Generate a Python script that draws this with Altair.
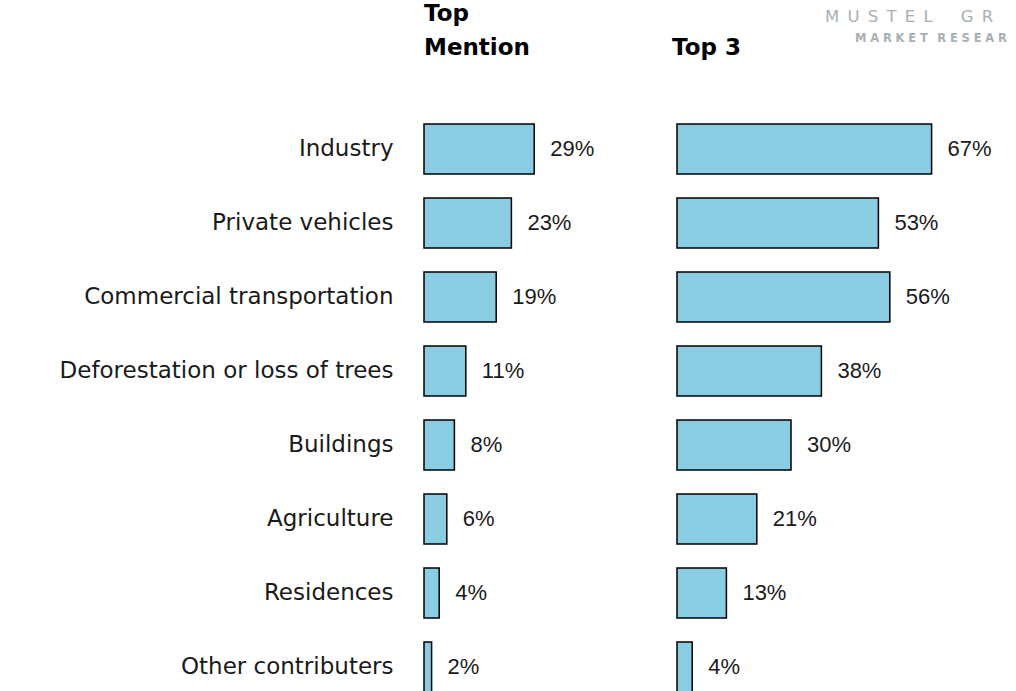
import altair as alt
import pandas as pd

categories = ["Industry", "Private vehicles", "Commercial transportation",
              "Deforestation or loss of trees", "Buildings", "Agriculture",
              "Residences", "Other contributers"]
top_mention = [29, 23, 19, 11, 8, 6, 4, 2]
top_three = [67, 53, 56, 38, 30, 21, 13, 4]

df = pd.DataFrame({"category": categories, "top": top_mention, "top3": top_three})
df["top_label"] = df["top"].astype(str) + "%"
df["top3_label"] = df["top3"].astype(str) + "%"

PX = 3.8
CAT_FONT = "DejaVu Sans"
NUM_FONT = "Liberation Sans"
BAR = "#8ACCE2"
INK = "#1a1a1a"
LOGO = "#a7afb5"
W1, W2, H = 243, 330, 568

yscale = alt.Scale(domain=categories, paddingInner=0.324, paddingOuter=0)
one = df.head(1)


def header(lines_y, x, texts, size=23):
    out = []
    for yy, t in zip(lines_y, texts):
        out.append(alt.Chart(one).mark_text(
            text=t, align="left", baseline="alphabetic", fontSize=size,
            font=CAT_FONT, fontWeight="bold", color="black"
        ).encode(x=alt.value(x), y=alt.value(yy)))
    return out


def panel(field, label, width, axis):
    base = alt.Chart(df)
    y = alt.Y("category:N", sort=categories, scale=yscale, title=None, axis=axis)
    x = alt.X(f"{field}:Q", scale=alt.Scale(domain=[0, width / PX]), axis=None)
    bars = base.mark_bar(color=BAR, stroke="black", strokeWidth=1.5).encode(x=x, y=y)
    text = base.mark_text(align="left", baseline="middle", dx=16, fontSize=22,
                          font=NUM_FONT, color=INK).encode(x=x, y=y, text=f"{label}:N")
    return [bars, text]


left_layers = panel("top", "top_label", W1,
                    alt.Axis(domain=False, ticks=False, grid=False, labelFontSize=23,
                             labelFont=CAT_FONT, labelColor=INK, labelPadding=31,
                             labelLimit=600))
left_layers += header([-103, -69], 0, ["Top", "Mention"])
left = alt.layer(*left_layers).properties(width=W1, height=H)

sp = "\u2002"
logo_top = sp.join(list("MUSTEL")) + "\u2003\u2002\u2009" + sp.join(list("GROUP"))
tsp = "\u2004"
logo_bot = tsp.join(list("MARKET")) + "\u2002\u2004" + tsp.join(list("RESEARCH"))

right_layers = panel("top3", "top3_label", W2, None)
right_layers += header([-69], -5, ["Top 3"])
right_layers.append(alt.Chart(one).mark_text(
    text=logo_top, align="left", baseline="alphabetic", fontSize=16.5, font=CAT_FONT,
    color=LOGO, limit=189, ellipsis="\u200b").encode(x=alt.value(148), y=alt.value(-102)))
right_layers.append(alt.Chart(one).mark_text(
    text=logo_bot, align="left", baseline="alphabetic", fontSize=11.5, fontWeight="bold",
    font=CAT_FONT, color=LOGO, limit=159, ellipsis="\u200b").encode(x=alt.value(178), y=alt.value(-82)))
right = alt.layer(*right_layers).properties(width=W2, height=H)

chart = alt.hconcat(left, right, spacing=10, bounds="flush").configure_view(
    stroke=None).properties(padding={"left": 59, "top": 3, "right": 0, "bottom": 0})

chart.save("out.html", embed_options={"renderer": "svg", "actions": False})
